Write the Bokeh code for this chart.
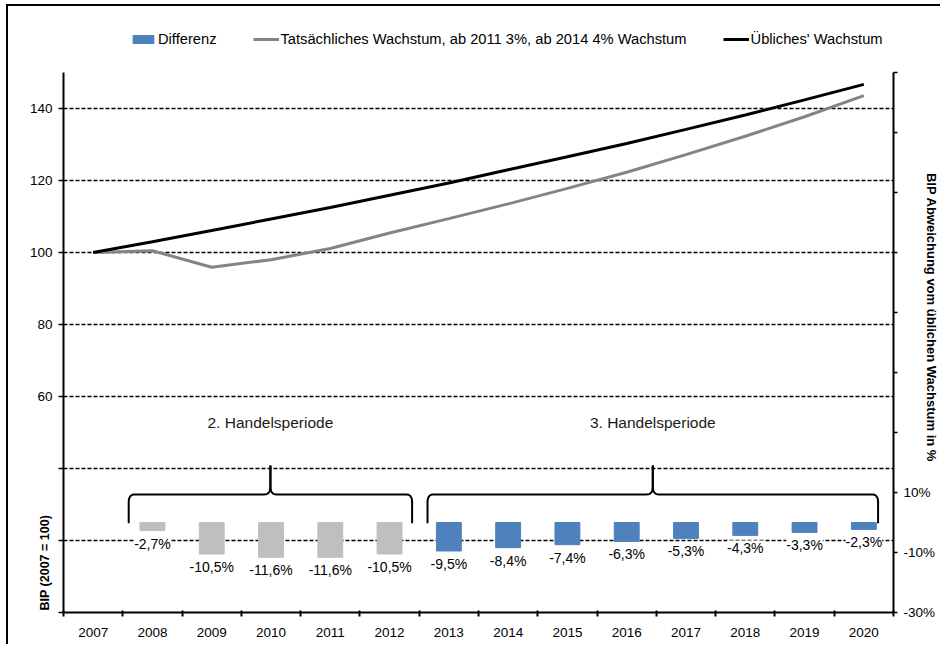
import numpy as np
from bokeh.plotting import figure
from bokeh.models import (Range1d, LinearAxis, FixedTicker, LabelSet, Label, Title,
                          ColumnDataSource, Legend, LegendItem)
from bokeh.core.properties import value
from bokeh.embed import file_html
from bokeh.resources import INLINE

# ---------------- data ----------------
years = ["2007", "2008", "2009", "2010", "2011", "2012", "2013",
         "2014", "2015", "2016", "2017", "2018", "2019", "2020"]
usual_growth = [100.0, 103.0, 106.1, 109.3, 112.5, 115.9, 119.3,
                123.0, 126.6, 130.3, 134.2, 138.2, 142.4, 146.7]
actual_growth = [100.0, 100.5, 95.9, 98.0, 101.1, 105.4, 109.4,
                 113.5, 117.8, 122.3, 127.2, 132.3, 137.7, 143.6]
diff_years = years[1:]
difference = [-2.7, -10.5, -11.6, -11.6, -10.5, -9.5, -8.4,
              -7.4, -6.3, -5.3, -4.3, -3.3, -2.3]
periods = ["2. Handelsperiode", "3. Handelsperiode"]
period_start = ["2008", "2013"]
period_end = ["2012", "2020"]
left_ticks = [0, 20, 40, 60, 80, 100, 120, 140]
left_tick_labels = ["", "", "", "60", "80", "100", "120", "140"]
right_ticks = [-30, -10, 10, 30, 50, 70, 90, 110, 130, 150]
right_tick_labels = ["-30%", "-10%", "10%", "", "", "", "", "", "", ""]
left_bounds = (0, 150)
right_bounds = (-30, 150)

FONT = "Liberation Sans"
BLUE = "#4F81BD"
LGRAY = "#BFBFBF"
LINEGRAY = "#848484"

W, H = 934, 640
ML, MR, MT, MB = 55, 49, 16, 34
FW, FH = W - ML - MR, H - MT - MB
AXIS_H = 540  # pixel height of the axis part (bounds) inside the frame
extra = FH / AXIS_H
y_top = left_bounds[0] + (left_bounds[1] - left_bounds[0]) * extra
pct_top = right_bounds[0] + (right_bounds[1] - right_bounds[0]) * extra

p = figure(width=W, height=H, output_backend="svg", toolbar_location=None,
           x_range=Range1d(-0.5, 13.5), y_range=Range1d(left_bounds[0], y_top),
           min_border_left=ML, min_border_right=MR, min_border_top=MT,
           min_border_bottom=MB, outline_line_color=None,
           styles={"border-left": "2px solid black", "border-top": "2px solid black",
                   "margin-left": "6px", "margin-top": "4px"})
p.extra_y_ranges = {"pct": Range1d(right_bounds[0], pct_top)}

idx = list(range(len(years)))
pos = {y: i for i, y in enumerate(years)}

# grid
p.xgrid.visible = False
p.ygrid.ticker = FixedTicker(ticks=[t for t in left_ticks if t > 0])
p.ygrid.grid_line_color = "black"
p.ygrid.grid_line_dash = "4 2"
p.ygrid.grid_line_width = 1.3

# bottom axis
xa = p.xaxis[0]
xa.ticker = FixedTicker(ticks=idx, minor_ticks=[i - 0.5 for i in range(len(years) + 1)])
xa.major_label_overrides = {i: y for i, y in enumerate(years)}
xa.major_tick_line_color = None
xa.minor_tick_line_color = "black"
xa.minor_tick_line_width = 2
xa.minor_tick_out = 4
xa.minor_tick_in = 2
xa.axis_line_width = 2
xa.major_label_standoff = 9
xa.major_label_text_font = FONT
xa.major_label_text_font_size = "13.5px"
xa.major_label_text_color = "black"


def try_set(obj, name, val):
    try:
        if name in obj.properties():
            setattr(obj, name, val)
    except Exception:
        pass


# left axis
ya = p.yaxis[0]
ya.ticker = FixedTicker(ticks=left_ticks)
ya.bounds = left_bounds
ya.major_label_overrides = dict(zip(left_ticks, left_tick_labels))
ya.minor_tick_line_color = None
ya.major_tick_out = 5
ya.major_tick_in = 0
ya.major_tick_line_width = 1.5
ya.axis_line_width = 2
ya.major_label_standoff = 6
ya.major_label_text_font = FONT
ya.major_label_text_font_size = "13.5px"
ya.major_label_text_color = "black"

# lower-left title (rotated, starts at the bottom of the plot)
p.add_layout(Title(text="BIP (2007 = 100)", align="left", vertical_align="bottom",
                   standoff=-50, offset=2, text_font=FONT, text_font_size="12.5px",
                   text_font_style="bold", text_color="black"), "left")

# right axis
ra = LinearAxis(y_range_name="pct", ticker=FixedTicker(ticks=right_ticks))
ra.bounds = right_bounds
ra.major_label_overrides = dict(zip(right_ticks, right_tick_labels))
ra.minor_tick_line_color = None
ra.major_tick_out = 4
ra.major_tick_in = 0
ra.major_tick_line_width = 1.5
ra.axis_line_width = 2
ra.major_label_standoff = 6
ra.major_label_text_font = FONT
ra.major_label_text_font_size = "13.5px"
ra.major_label_text_color = "black"
ra.axis_label = "BIP Abweichung vom üblichen Wachstum in %"
ra.axis_label_text_font = FONT
ra.axis_label_text_font_size = "13px"
ra.axis_label_text_font_style = "bold"
ra.axis_label_text_color = "black"
ra.axis_label_standoff = -14
p.add_layout(ra, "right")

# bars
bar_src = ColumnDataSource(dict(
    x=[pos[y] for y in diff_years],
    top=difference,
    color=[LGRAY if int(y) <= int(period_end[0]) else BLUE for y in diff_years],
    label=[f"{v:.1f}".replace(".", ",") + "%" for v in difference],
))
bars = p.vbar(x="x", top="top", bottom=0, width=0.42, color="color",
              y_range_name="pct", source=bar_src)
labels = LabelSet(x="x", y="top", text="label", source=bar_src, y_range_name="pct",
                  text_align="center", text_baseline="top", y_offset=-5,
                  text_font=value(FONT), text_font_size=value("14px"), text_color="black",
                  background_fill_color="white")
p.add_layout(labels)

# lines
gl = p.line(idx, actual_growth, line_color=LINEGRAY, line_width=3)
bl = p.line(idx, usual_growth, line_color="black", line_width=3)

# braces
px_x = 14.0 / FW
px_y = y_top / FH
yb, ym, yt = 24.8, 32.8, 40.8
pads = [(0.4, 0.38), (0.36, 0.24)]


def qbez(p0, p1, p2, n=12):
    t = np.linspace(0, 1, n)
    xs = (1 - t) ** 2 * p0[0] + 2 * (1 - t) * t * p1[0] + t ** 2 * p2[0]
    ys = (1 - t) ** 2 * p0[1] + 2 * (1 - t) * t * p1[1] + t ** 2 * p2[1]
    return list(xs), list(ys)


bxs, bys = [], []
for k, ((s, e), (pl, pr)) in enumerate(zip(zip(period_start, period_end), pads)):
    x0 = pos[s] - pl
    x1 = pos[e] + pr
    xc = (x0 + x1) / 2
    for xe, sg in ((x0, 1), (x1, -1)):
        xs = [xe]
        ys = [yb]
        cx, cy = qbez((xe, ym - 8 * px_y), (xe, ym), (xe + sg * 6 * px_x, ym))
        xs += cx
        ys += cy
        cx, cy = qbez((xc - sg * 6 * px_x, ym), (xc, ym), (xc, ym + 8 * px_y))
        xs += cx
        ys += cy
        xs.append(xc)
        ys.append(yt)
        bxs.append(xs)
        bys.append(ys)
    p.add_layout(Label(x=xc, y=52.8, text=periods[k],
                       text_align="center", text_baseline="middle",
                       text_font=FONT, text_font_size="15.5px", text_color="#1a1a1a"))
p.multi_line(bxs, bys, line_color="black", line_width=2)

# legend (inside the frame, above the axis bounds)
legend = Legend(items=[
    LegendItem(label="Differenz", renderers=[bars], index=5),
    LegendItem(label="Tatsächliches Wachstum, ab 2011 3%, ab 2014 4% Wachstum", renderers=[gl]),
    LegendItem(label="Übliches' Wachstum", renderers=[bl]),
], orientation="horizontal", location=(67, FH - 25), padding=0, margin=0,
    spacing=36, glyph_width=26, glyph_height=10, label_standoff=2, label_height=14,
    label_text_font=FONT, label_text_font_size="14.7px", label_text_color="black",
    border_line_color=None, background_fill_alpha=0)
p.add_layout(legend)

open("out.html", "w").write(file_html(p, INLINE))
